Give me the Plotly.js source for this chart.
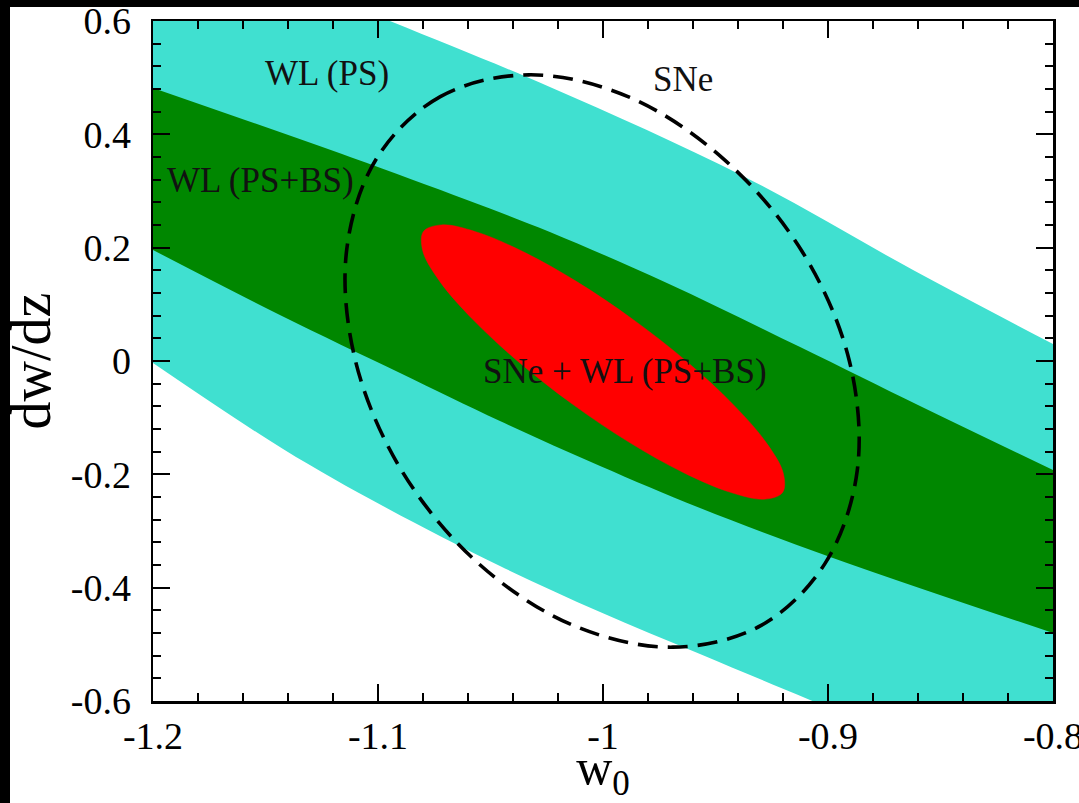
<!DOCTYPE html>
<html>
<head>
<meta charset="utf-8">
<script src="https://cdn.plot.ly/plotly-3.0.1.min.js"></script>
<style>
  html, body { margin: 0; padding: 0; background: #fff; width: 1079px; height: 803px; overflow: hidden; }
  #chart { position: absolute; left: 0; top: 0; width: 1079px; height: 803px; }
  .band { position: absolute; background: #000; z-index: 10; }
  #bandTop { left: 0; top: 0; width: 1079px; height: 7px; }
  #bandLeft { left: 0; top: 0; width: 10px; height: 803px; }
</style>
</head>
<body>
<div id="chart"></div>
<div class="band" id="bandTop"></div>
<div class="band" id="bandLeft"></div>
<script>
// ---- Data ----
// WL (PS) band (cyan): upper and lower edges (edge points just outside the frame continue the visible edge)
const wlpsUpperW0   = [-1.2, -1.0947, -1.0236, -0.9378, -0.8622, -0.8];
const wlpsUpperDwdz = [0.7676, 0.6, 0.4835, 0.3265, 0.1606, 0.03];
const wlpsLowerW0   = [-1.2, -1.1422, -1.0978, -1.0458, -1.0013, -0.9569, -0.908, -0.8];
const wlpsLowerDwdz = [-0.0035, -0.1553, -0.2559, -0.3618, -0.4429, -0.5171, -0.5982, -0.7747];

// WL (PS+BS) band (green): upper and lower edges
const wlbsUpperW0   = [-1.2, -1.1124, -1.0604, -1.0236, -0.9716, -0.9124, -0.8591, -0.8];
const wlbsUpperDwdz = [0.4818, 0.36, 0.2841, 0.2276, 0.1376, 0.0247, -0.0794, -0.1924];
const wlbsLowerW0   = [-1.2, -1.1436, -1.0902, -1.0458, -1.0013, -0.9569, -0.8978, -0.8];
const wlbsLowerDwdz = [0.1959, 0.0812, -0.0212, -0.1059, -0.1853, -0.2594, -0.3476, -0.48];

// SNe + WL (PS+BS) combined contour (red)
const comboW0   = [-1.0376, -1.0579, -1.0726, -1.0801, -1.0798, -1.0717, -1.0566, -1.0359, -1.0117, -0.9864, -0.9624, -0.9421, -0.9274, -0.9199, -0.9202, -0.9283, -0.9434, -0.9641, -0.9883, -1.0136, -1.0376];
const comboDwdz = [-0.0013, 0.0735, 0.1409, 0.1943, 0.2285, 0.2402, 0.2282, 0.1937, 0.1401, 0.0725, -0.0023, -0.077, -0.1444, -0.1978, -0.2321, -0.2438, -0.2317, -0.1972, -0.1436, -0.0761, -0.0013];

// SNe contour (dashed)
const sneW0   = [-1.033, -1.0723, -1.1007, -1.114, -1.11, -1.0895, -1.0554, -1.0132, -0.969, -0.9297, -0.9013, -0.887, -0.8905, -0.9115, -0.9466, -0.9889, -1.033];
const sneDwdz = [0.505, 0.4666, 0.3571, 0.1933, 0, -0.1933, -0.3571, -0.4666, -0.505, -0.4666, -0.3571, -0.1933, 0, 0.1933, 0.3571, 0.4666, 0.505];

// Axes
const xRange = [-1.2000001, -0.7999999];
const yRange = [-0.6000001, 0.6000001];
const xTickVals = [-1.2, -1.1, -1.0, -0.9, -0.8];
const xTickText = ["-1.2", "-1.1", "-1", "-0.9", "-0.8"];
const yTickVals = [-0.6, -0.4, -0.2, 0, 0.2, 0.4, 0.6];
const yTickText = ["-0.6", "-0.4", "-0.2", "0", "0.2", "0.4", "0.6"];

// Labels
const labelText = ["WL (PS)", "WL (PS+BS)", "SNe", "SNe + WL (PS+BS)"];
const labelW0   = [-1.1227, -1.1524, -0.9644, -0.9904];
const labelDwdz = [0.508, 0.319, 0.4976, -0.0194];

const CYAN = '#40E0D0', GREEN = '#008700', RED = '#FF0000';
const FONT = 'Liberation Serif, Times New Roman, serif';

function edge(x, y, fill, color) {
  return { x: x, y: y, type: 'scatter', mode: 'lines', fill: fill, fillcolor: color,
    line: { width: 0, color: color, shape: 'spline', smoothing: 1 }, hoverinfo: 'skip', showlegend: false };
}

const traces = [
  edge(wlpsLowerW0, wlpsLowerDwdz, 'none', CYAN),
  edge(wlpsUpperW0, wlpsUpperDwdz, 'tonexty', CYAN),
  edge(wlbsLowerW0, wlbsLowerDwdz, 'none', GREEN),
  edge(wlbsUpperW0, wlbsUpperDwdz, 'tonexty', GREEN),
  { x: comboW0, y: comboDwdz, type: 'scatter', mode: 'lines', fill: 'toself', fillcolor: RED,
    line: { width: 0.5, color: RED, shape: 'spline', smoothing: 1 }, hoverinfo: 'skip', showlegend: false },
  { x: sneW0, y: sneDwdz, type: 'scatter', mode: 'lines',
    line: { width: 3.6, color: '#000', dash: '20px,10px', shape: 'spline', smoothing: 1 },
    hoverinfo: 'skip', showlegend: false }
];

const annotations = labelText.map((t, i) => ({
  x: labelW0[i], y: labelDwdz[i], xref: 'x', yref: 'y', text: t, showarrow: false,
  xanchor: 'center', yanchor: 'middle', font: { family: FONT, size: 35, color: '#111' }
}));

const axisCommon = {
  showgrid: false, zeroline: false, showline: true, linecolor: '#000', linewidth: 2.5,
  mirror: 'ticks', ticks: 'inside', ticklen: 17, tickwidth: 2, tickcolor: '#000',
  tickmode: 'array', ticklabeloverflow: 'allow',
  tickfont: { family: FONT, size: 38, color: '#000' }
};

const layout = {
  width: 1079, height: 803,
  margin: { l: 153, r: 26, t: 21, b: 102 },
  paper_bgcolor: '#fff', plot_bgcolor: '#fff',
  xaxis: Object.assign({}, axisCommon, {
    range: xRange, tickvals: xTickVals, ticktext: xTickText, ticklabelstandoff: 0,
    minor: { dtick: 0.02, tick0: -1.2, ticks: 'inside', ticklen: 8, tickwidth: 2, tickcolor: '#000' },
    title: { text: 'w<sub>0</sub>', font: { family: FONT, size: 50, color: '#000' }, standoff: 24 }
  }),
  yaxis: Object.assign({}, axisCommon, {
    range: yRange, tickvals: yTickVals, ticktext: yTickText, ticklabelstandoff: 12,
    minor: { dtick: 0.04, tick0: -0.6, ticks: 'inside', ticklen: 8, tickwidth: 2, tickcolor: '#000' },
    title: { text: 'dw/dz', font: { family: FONT, size: 56, color: '#000' }, standoff: 35 }
  }),
  annotations: annotations
};

Plotly.newPlot('chart', traces, layout, { staticPlot: true, displayModeBar: false });
</script>
</body>
</html>
